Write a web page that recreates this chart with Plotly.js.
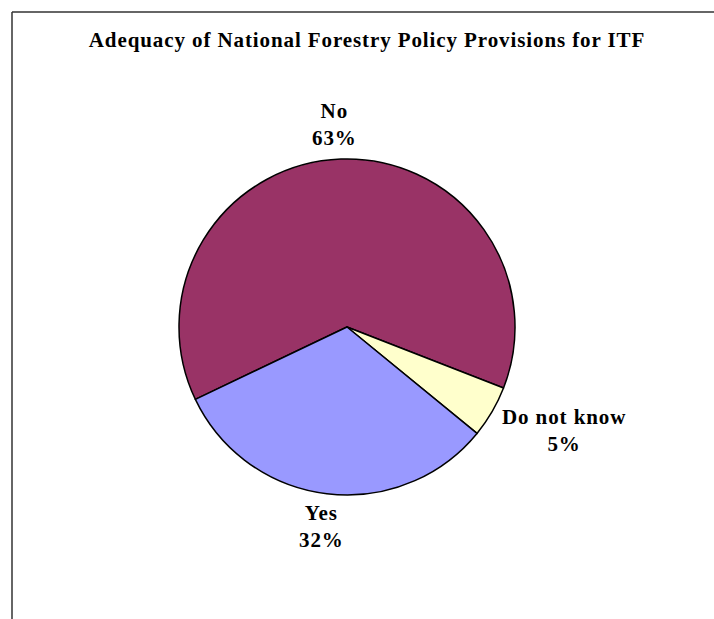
<!DOCTYPE html>
<html>
<head>
<meta charset="utf-8">
<script src="https://cdn.plot.ly/plotly-3.0.1.min.js"></script>
<style>
  html, body { margin: 0; padding: 0; background: #fff; }
  #chart { width: 714px; height: 619px; }
  .gtitle, .annotation-text { letter-spacing: 0.9px; }
</style>
</head>
<body>
<div id="chart"></div>
<script>
// Data
const categories = ["No", "Do not know", "Yes"];
const percentValues = [63, 5, 32];
const sliceColors = ["#993366", "#FFFFCC", "#9999FF"];
const chartTitle = "Adequacy of National Forestry Policy Provisions for ITF";

// Label positions (pixels in a 714x619 canvas)
const labelPos = [[334, 124], [564, 430], [321, 526]];

const W = 714, H = 619;
const px = v => v / W;
const py = v => 1 - v / H;

const cx = 347, cy = 327, r = 168;

const trace = {
  type: "pie",
  labels: categories,
  values: percentValues,
  sort: false,
  direction: "clockwise",
  rotation: 244.5,
  textinfo: "none",
  hoverinfo: "label+percent",
  marker: { colors: sliceColors, line: { color: "#000000", width: 1.5 } },
  domain: { x: [px(cx - r), px(cx + r)], y: [py(cy + r), py(cy - r)] },
  showlegend: false
};

const font = { family: "Liberation Serif, Times New Roman, serif", size: 21, color: "#000000" };

const annotations = categories.map((c, i) => ({
  text: "<b>" + c + "<br>" + percentValues[i] + "%</b>",
  x: px(labelPos[i][0]),
  y: py(labelPos[i][1]),
  xref: "paper", yref: "paper",
  xanchor: "center", yanchor: "middle",
  showarrow: false,
  align: "center",
  font: font
}));

const layout = {
  width: W, height: H,
  margin: { l: 0, r: 0, t: 0, b: 0, pad: 0 },
  paper_bgcolor: "#ffffff",
  plot_bgcolor: "#ffffff",
  title: {
    text: "<b>" + chartTitle + "</b>",
    x: px(367), xanchor: "center", xref: "paper",
    y: py(40), yanchor: "middle", yref: "paper",
    font: font
  },
  annotations: annotations,
  shapes: [
    { type: "line", xref: "paper", yref: "paper", x0: px(12), x1: px(12), y0: -0.05, y1: py(12), line: { color: "#333333", width: 1.5 } },
    { type: "line", xref: "paper", yref: "paper", x0: px(12), x1: 1.05, y0: py(12), y1: py(12), line: { color: "#333333", width: 1.5 } }
  ]
};

Plotly.newPlot("chart", [trace], layout, { displayModeBar: false, staticPlot: true });
</script>
</body>
</html>
